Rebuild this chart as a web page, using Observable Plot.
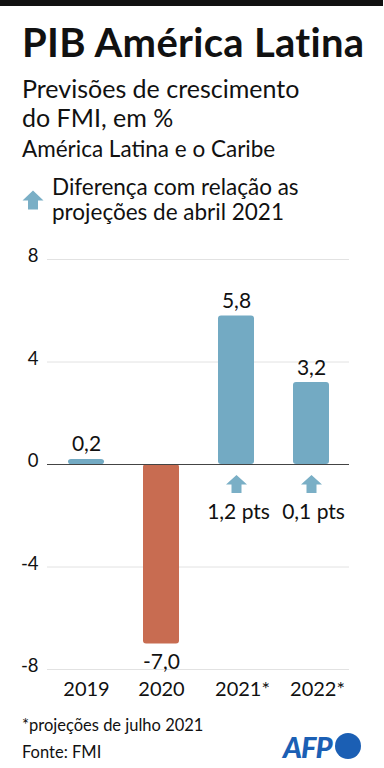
<!DOCTYPE html>
<html>
<head>
<meta charset="utf-8">
<script src="https://cdn.jsdelivr.net/npm/d3@7"></script>
<script src="https://cdn.jsdelivr.net/npm/@observablehq/plot@0.6"></script>
<style>
  html, body { margin: 0; padding: 0; background: #fff; }
  body { width: 384px; height: 768px; position: relative; overflow: hidden; font-family: Lato, "Open Sans", sans-serif; color: #111; }
  .abs { position: absolute; left: 22px; white-space: nowrap; }
  #topbar { position: absolute; left: 0; top: 0; width: 383px; height: 6px; background: #111; }
  #title { top: 23px; font-size: 40px; line-height: 38px; font-weight: 700; letter-spacing: 0.3px; }
  #subtitle { top: 74px; font-size: 25px; line-height: 29px; }
  #region { top: 137px; font-size: 22.5px; line-height: 24px; }
  #legend { top: 174px; left: 52px; font-size: 22.5px; line-height: 25px; }
  #legendIcon { position: absolute; left: 22px; top: 190px; }
  #chart { position: absolute; left: 0; top: 235px; }
  #note { top: 715px; font-size: 16.5px; line-height: 20px; }
  #source { top: 742px; font-size: 16.5px; line-height: 20px; }
  #afp { position: absolute; left: 283px; top: 731px; height: 30px; display: flex; align-items: center; }
  #afp span { font-weight: 900; font-style: italic; font-size: 29px; color: #1b5fb4; letter-spacing: -1px; }
  #afp i { display: inline-block; width: 26px; height: 26px; border-radius: 50%; background: #1b5fb4; margin-left: 3px; }
</style>
</head>
<body>
<div id="topbar"></div>
<div id="title" class="abs">PIB América Latina</div>
<div id="subtitle" class="abs">Previsões de crescimento<br>do FMI, em %</div>
<div id="region" class="abs">América Latina e o Caribe</div>
<svg id="legendIcon" width="22" height="20" viewBox="-11 -10 22 20"><path d="M0,-9.5L10.5,0.5L5,0.5L5,9.5L-5,9.5L-5,0.5L-10.5,0.5Z" fill="#7aafc6"/></svg>
<div id="legend" class="abs">Diferença com relação as<br>projeções de abril 2021</div>
<div id="chart"></div>
<div id="note" class="abs">*projeções de julho 2021</div>
<div id="source" class="abs">Fonte: FMI</div>
<div id="afp"><span>AFP</span><i></i></div>
<script>
// ---- data ----
const years = ["2019", "2020", "2021*", "2022*"];
const growth = [0.2, -7.0, 5.8, 3.2];
const diffYears = ["2021*", "2022*"];
const diffValues = [1.2, 0.1];
const yTicks = [-8, -4, 0, 4, 8];

const blue = "#73aac3";
const orange = "#c86c51";
const arrowBlue = "#7aafc6";

const fmt = d3.formatLocale({decimal: ",", thousands: ".", grouping: [3], currency: ["", ""], minus: "-"}).format(".1f");

const data = years.map((year, i) => ({year, value: growth[i]}));
const diffs = diffYears.map((year, i) => ({year, value: diffValues[i]}));

const arrowSymbol = {
  draw(ctx, size) {
    const k = Math.sqrt(size / Math.PI) / 10.5;
    ctx.moveTo(0, -9 * k);
    ctx.lineTo(10.5 * k, 0.5 * k);
    ctx.lineTo(5 * k, 0.5 * k);
    ctx.lineTo(5 * k, 9 * k);
    ctx.lineTo(-5 * k, 9 * k);
    ctx.lineTo(-5 * k, 0.5 * k);
    ctx.lineTo(-10.5 * k, 0.5 * k);
    ctx.closePath();
  }
};

const chart = Plot.plot({
  width: 384,
  height: 470,
  marginLeft: 47,
  marginRight: 35,
  marginTop: 24,
  marginBottom: 36,
  style: {fontFamily: "Lato, 'Open Sans', sans-serif", color: "#111", background: "transparent"},
  x: {type: "band", domain: years, paddingInner: 0.52, paddingOuter: 0.26, axis: null},
  y: {domain: [-8, 8], axis: null},
  marks: [
    Plot.ruleY(yTicks.filter(d => d !== 0), {stroke: "#e2e2e2", strokeWidth: 1}),
    Plot.barY(data, {x: "year", y: "value", fill: d => d.value < 0 ? orange : blue, rx: 3}),
    Plot.ruleY([0], {stroke: "#444", strokeWidth: 1}),
    Plot.axisY(yTicks, {label: null, tickSize: 0, tickPadding: 9, fontSize: 18.5, dy: -3, tickFormat: d => String(d), fill: "#111"}),
    Plot.text(data, {x: "year", y: "value", text: d => fmt(d.value), fontSize: 21, lineAnchor: "bottom", fill: "#111",
      filter: d => d.value >= 0, dy: -8}),
    Plot.text(data, {x: "year", y: "value", text: d => fmt(d.value), fontSize: 21, lineAnchor: "bottom", fill: "#111",
      filter: d => d.value < 0, dy: 25}),
    Plot.dot(diffs, {x: "year", y: () => 0, dy: 19.5, r: 10.5, symbol: arrowSymbol, fill: arrowBlue, stroke: "none"}),
    Plot.text(diffs, {x: "year", y: () => 0, dy: 54, dx: 2, text: d => fmt(d.value) + " pts", fontSize: 21, lineAnchor: "bottom", fill: "#111"}),
    Plot.text(data, {x: "year", y: () => -8, dy: 26, text: "year", fontSize: 20, lineAnchor: "bottom", fill: "#111",
      filter: d => !d.year.endsWith("*")}),
    Plot.text(data, {x: "year", y: () => -8, dy: 26, dx: 6, text: "year", fontSize: 20, lineAnchor: "bottom", fill: "#111",
      filter: d => d.year.endsWith("*")})
  ]
});
document.getElementById("chart").appendChild(chart);
</script>
</body>
</html>
